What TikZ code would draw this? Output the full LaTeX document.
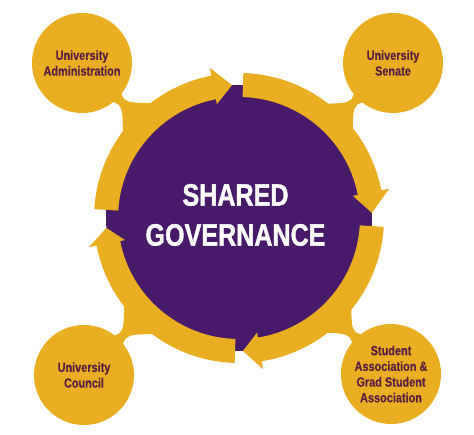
\documentclass[tikz,border=0pt]{standalone}
\usepackage{fontspec}
\setmainfont{Liberation Sans}
\newfontfamily\condfont[FakeStretch=0.82, FakeBold=0.4]{Liberation Sans}
\newfontfamily\titlefont[FakeStretch=0.81, FakeBold=1.2]{Liberation Sans}
\definecolor{govgold}{HTML}{E9AE22}
\definecolor{govpurple}{HTML}{481B6A}
\definecolor{labeltext}{HTML}{5B2140}
\newcommand\satneck[2]{%
  \fill[govgold, shift={(#1.center)}, rotate=#2]
    (40pt,16pt) .. controls (48pt,6pt) .. (55pt,4pt)
    .. controls (62pt,4pt) and (66pt,10pt) .. (80pt,22pt)
    -- (80pt,-22pt)
    .. controls (66pt,-10pt) and (62pt,-4pt) .. (55pt,-4pt)
    .. controls (48pt,-6pt) .. (40pt,-16pt) -- cycle;}
\begin{document}
\begin{tikzpicture}[x=1pt,y=1pt,
  sat/.style={circle, fill=govgold, minimum size=100pt, inner sep=0pt,
    text=labeltext, align=center,
    font=\condfont\bfseries\fontsize{13.3}{15.7}\selectfont},
  hubstyle/.style={circle, fill=govpurple, minimum size=266pt, inner sep=0pt},
  titlestyle/.style={text=white, align=center, inner sep=0pt,
    font=\titlefont\bfseries\fontsize{31}{40}\selectfont},
  band/.style={fill=govgold}]
\useasboundingbox (0,0) rectangle (474,435);
\coordinate (C) at (239,217);
\node[hubstyle] (hub) at (C) {};
% circular arrows
\begin{scope}[shift={(C)}]
\foreach \s/\b/\t in {176.5/101/93, 88.3/11/2.2, -3.5/-81/-88.3, -91.7/-169/-175.7}
  \fill[band] (\s:145pt) arc[start angle=\s, end angle=\b, radius=145pt]
    -- (\b:153pt) -- (\t:133pt) -- (\b:116pt) -- (\b:121pt)
    arc[start angle=\b, end angle=\s, radius=121pt] -- cycle;
\end{scope}
% satellites
\node[sat] (adm) at (82,372) {University\\Administration};
\node[sat] (sen) at (393,372) {University\\Senate};
\node[sat] (cou) at (84,60) {University\\Council};
\node[sat] (stu) at (391,61) {Student\\Association \&\\Grad Student\\Association};
\satneck{adm}{-44.6}
\satneck{sen}{225.2}
\satneck{cou}{45.4}
\satneck{stu}{134.3}
\node[titlestyle] (title) at (235.5,220) {SHARED\\GOVERNANCE};
\end{tikzpicture}
\end{document}
